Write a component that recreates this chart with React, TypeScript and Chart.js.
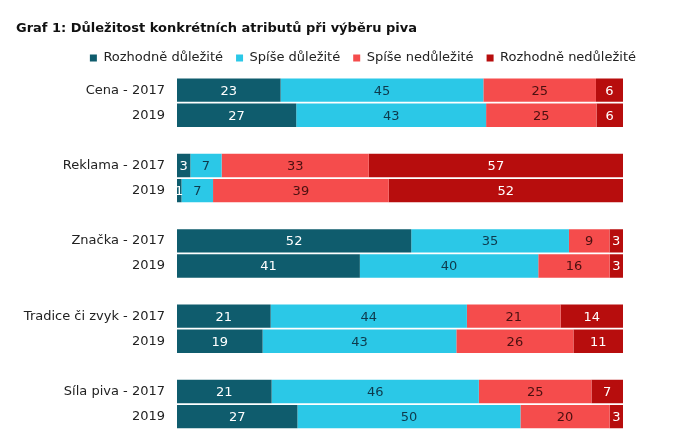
import React, { useEffect, useRef } from "react";
import { Chart, registerables } from "chart.js";

Chart.register(...registerables);

const attributes = ["Cena", "Reklama", "Značka", "Tradice či zvyk", "Síla piva"];
const years = ["2017", "2019"];
const seriesNames = ["Rozhodně důležité", "Spíše důležité", "Spíše nedůležité", "Rozhodně nedůležité"];
// order: attribute × year (2017, 2019)
const rozhodneDulezite = [23, 27, 3, 1, 52, 41, 21, 19, 21, 27];
const spiseDulezite = [45, 43, 7, 7, 35, 40, 44, 43, 46, 50];
const spiseNedulezite = [25, 25, 33, 39, 9, 16, 21, 26, 25, 20];
const rozhodneNedulezite = [6, 6, 57, 52, 3, 3, 14, 11, 7, 3];
const title = "Graf 1: Důležitost konkrétních atributů při výběru piva";

const colors = ["#0f5c6d", "#2bc8e7", "#f54c4c", "#b70d0d"];
const labelColors = ["#ffffff", "#0e3a4c", "#4a1010", "#ffffff"];
const FONT = "'DejaVu Sans', Verdana, sans-serif";

export default function App() {
  const ref = useRef<HTMLCanvasElement>(null);
  useEffect(() => {
    const raw = [rozhodneDulezite, spiseDulezite, spiseNedulezite, rozhodneNedulezite];
    const labels: string[] = [];
    const rowIndex: (number | null)[] = [];
    attributes.forEach((a, ai) => {
      years.forEach((y, yi) => {
        labels.push(yi === 0 ? `${a} - ${y}` : y);
        rowIndex.push(ai * years.length + yi);
      });
      if (ai < attributes.length - 1) {
        labels.push("");
        rowIndex.push(null);
      }
    });
    const sums = rozhodneDulezite.map((_, i) => raw.reduce((s, arr) => s + arr[i], 0));
    const datasets = raw.map((arr, si) => ({
      label: seriesNames[si],
      data: rowIndex.map((r) => (r === null ? null : (arr[r] / sums[r]) * 100)),
      rawValues: rowIndex.map((r) => (r === null ? null : arr[r])),
      backgroundColor: colors[si],
      borderWidth: 0,
      barPercentage: 1,
      categoryPercentage: 0.93,
    }));

    const valueLabels = {
      id: "valueLabels",
      afterDatasetsDraw(chart: any) {
        const ctx = chart.ctx;
        ctx.save();
        ctx.font = `13px ${FONT}`;
        ctx.textAlign = "center";
        ctx.textBaseline = "middle";
        chart.data.datasets.forEach((ds: any, di: number) => {
          const meta = chart.getDatasetMeta(di);
          meta.data.forEach((el: any, i: number) => {
            const v = ds.rawValues[i];
            if (v === null || v === undefined) return;
            const { x, y, base } = el.getProps(["x", "y", "base"], true);
            ctx.fillStyle = labelColors[di];
            ctx.fillText(String(v), (x + base) / 2, y + 1);
          });
        });
        ctx.restore();
      },
    };

    const shiftLegend = {
      id: "shiftLegend",
      afterLayout(chart: any) {
        const l = chart.legend;
        if (l) {
          l.left += 26;
          l.right += 26;
          l.top -= 3;
          l.bottom -= 3;
        }
      },
    };

    const chart = new Chart(ref.current!, {
      type: "bar",
      data: { labels, datasets: datasets as any },
      plugins: [valueLabels, shiftLegend],
      options: {
        indexAxis: "y",
        animation: false,
        responsive: false,
        layout: { padding: { left: 16, right: 56, bottom: 9, top: 0 } },
        plugins: {
          title: {
            display: true,
            text: title,
            align: "start",
            color: "#111",
            font: { family: FONT, size: 13, weight: "bold" },
            padding: { top: 21, bottom: 5 },
          },
          legend: {
            position: "top",
            align: "end",
            labels: {
              boxWidth: 7,
              boxHeight: 7,
              padding: 13,
              color: "#222",
              font: { family: FONT, size: 13 },
            },
          },
          tooltip: { enabled: false },
        },
        scales: {
          x: {
            stacked: true,
            min: 0,
            max: 100,
            display: false,
          },
          y: {
            stacked: true,
            grid: { display: false },
            border: { display: false },
            ticks: {
              color: "#222",
              padding: 4,
              font: { family: FONT, size: 13 },
              autoSkip: false,
            },
            afterFit(scale: any) {
              scale.width = 161;
            },
          },
        },
      },
    });
    return () => chart.destroy();
  }, []);
  return (
    <div style={{ position: "absolute", left: 0, top: 0, width: 679, height: 441, background: "#fff" }}>
      <canvas ref={ref} width={679} height={441} />
    </div>
  );
}
